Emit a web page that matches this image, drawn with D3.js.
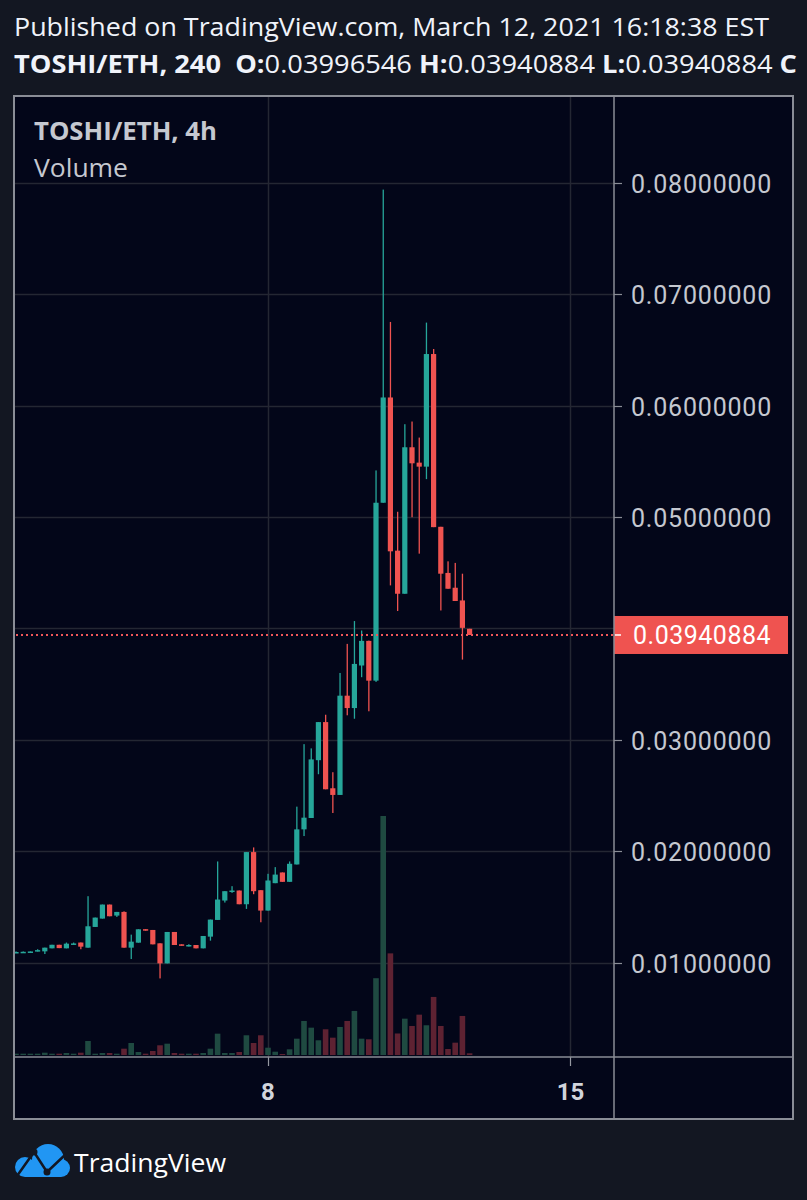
<!DOCTYPE html>
<html>
<head>
<meta charset="utf-8">
<style>
  body { margin: 0; background: #131722; }
  svg { display: block; }
</style>
</head>
<body>
<svg width="807" height="1200"></svg>
<script src="https://d3js.org/d3.v7.min.js"></script>
<script>

    // TOSHI/ETH 4h candles (one entry per candle)
    var opens = [0.01095, 0.01093, 0.01098, 0.01108, 0.01101, 0.01128, 0.0116, 0.01128, 0.01168, 0.0118,
        0.01134, 0.0132, 0.01395, 0.01521, 0.01422, 0.01455, 0.01134, 0.01179, 0.013, 0.01293,
        0.01173, 0.00993, 0.01275, 0.01164, 0.01152, 0.01158, 0.01128, 0.01233, 0.01383, 0.01557,
        0.01636, 0.01647, 0.01524, 0.01992, 0.0165, 0.01467, 0.01713, 0.01809, 0.01725, 0.01881,
        0.02196, 0.02298, 0.02817, 0.03159, 0.02565, 0.02505, 0.03396, 0.03285, 0.03667, 0.03888,
        0.03531, 0.05128, 0.06073, 0.04698, 0.04311, 0.05626, 0.05488, 0.05452, 0.06463, 0.04912,
        0.04498, 0.04365, 0.04251, 0.03996546];
    var highs = [0.011, 0.011, 0.011, 0.0112, 0.01134, 0.0116, 0.0116, 0.0118, 0.0118, 0.0118,
        0.01596, 0.01404, 0.01521, 0.01521, 0.01455, 0.0146, 0.01251, 0.01299, 0.013, 0.01293,
        0.01173, 0.01275, 0.01275, 0.01164, 0.01165, 0.01158, 0.01239, 0.01386, 0.01908, 0.01641,
        0.01686, 0.01647, 0.01992, 0.02034, 0.0165, 0.01797, 0.01857, 0.01809, 0.01908, 0.024,
        0.02961, 0.02923, 0.03159, 0.03225, 0.02709, 0.036, 0.03861, 0.04066, 0.03981, 0.0389,
        0.05418, 0.07939, 0.06751, 0.05047, 0.05833, 0.05857, 0.05713, 0.06745, 0.06508, 0.04912,
        0.04602, 0.04588, 0.04491, 0.03996546];
    var lows = [0.0109, 0.0109, 0.0109, 0.011, 0.01077, 0.01128, 0.0113, 0.01128, 0.0116, 0.0112,
        0.01134, 0.0132, 0.01395, 0.01416, 0.0141, 0.01134, 0.01032, 0.01179, 0.01287, 0.01164,
        0.00858, 0.00993, 0.01158, 0.01152, 0.01145, 0.01128, 0.01128, 0.01197, 0.01383, 0.01539,
        0.01626, 0.01524, 0.01482, 0.01614, 0.01362, 0.01467, 0.01713, 0.01725, 0.01725, 0.01881,
        0.02136, 0.02298, 0.02691, 0.02556, 0.02343, 0.02505, 0.0322, 0.03189, 0.03562, 0.03256,
        0.0352, 0.05128, 0.04386, 0.04156, 0.04311, 0.04998, 0.04671, 0.0534, 0.04909, 0.04161,
        0.04356, 0.04246, 0.0372, 0.03940884];
    var closes = [0.01095, 0.01097, 0.011, 0.01112, 0.01134, 0.0116, 0.0113, 0.0117, 0.01172, 0.01143,
        0.01326, 0.01404, 0.01521, 0.01416, 0.01455, 0.01134, 0.01188, 0.01299, 0.01287, 0.01164,
        0.00993, 0.01275, 0.01158, 0.01152, 0.01158, 0.01128, 0.01239, 0.01386, 0.01566, 0.01641,
        0.01647, 0.01524, 0.01992, 0.01641, 0.01467, 0.01737, 0.0179, 0.01725, 0.01887, 0.02196,
        0.02301, 0.02824, 0.03159, 0.02556, 0.02505, 0.03396, 0.03285, 0.03681, 0.03888, 0.03531,
        0.05128, 0.06073, 0.04692, 0.04311, 0.05626, 0.05482, 0.05452, 0.06463, 0.04909, 0.04491,
        0.04356, 0.04246, 0.04005, 0.03940884];
    var volumes = [13, 13, 13, 13, 23, 13, 13, 20, 13, 23,
        140, 13, 20, 20, 13, 63, 120, 30, 13, 40,
        97, 113, 20, 13, 13, 13, 20, 63, 213, 20,
        20, 30, 197, 120, 197, 73, 33, 10, 57, 163,
        340, 273, 147, 257, 173, 280, 340, 440, 163, 157,
        767, 2387, 1015, 215, 363, 290, 403, 297, 580, 290,
        60, 123, 390, 17];

    var priceTicks = [0.01, 0.02, 0.03, 0.04, 0.05, 0.06, 0.07, 0.08];
    var dayTickIndex = [35, 77];     // candle index where the day starts
    var dayTickLabels = ["8", "15"];
    var lastPrice = 0.03940884;

    var upColor = "#26a69a", downColor = "#ef5350";
    var textColor = "#c5c8d0";

    var svg = d3.select("svg");

    // pane geometry
    var pane = {left: 14, top: 96, right: 793, bottom: 1119},
        axisX = 614,   // price axis separator
        axisY = 1057;  // time axis separator

    var x = d3.scaleLinear().domain([0, 35]).range([16, 268]);
    var y = d3.scaleLinear().domain([0, 0.08]).range([1074, 182.8]);
    var vol = d3.scaleLinear().domain([0, d3.max(volumes)]).range([1055, 816]);

    // header
    var head = svg.append("g").attr("fill", "#f0f3fa").style("font-family", "'Open Sans', sans-serif");
    head.append("text")
        .attr("x", 14).attr("y", 36)
        .attr("font-size", 25)
        .attr("textLength", 755).attr("lengthAdjust", "spacingAndGlyphs")
        .text("Published on TradingView.com, March 12, 2021 16:18:38 EST");

    var line2 = head.append("text")
        .attr("x", 14).attr("y", 73)
        .attr("font-size", 25)
        .attr("xml:space", "preserve")
        .attr("textLength", 783).attr("lengthAdjust", "spacingAndGlyphs");
    [["TOSHI/ETH, 240  ", true], ["O:", true], ["0.03996546 ", false], ["H:", true], ["0.03940884 ", false],
        ["L:", true], ["0.03940884 ", false], ["C", true]].forEach(function (p) {
        line2.append("tspan").attr("font-weight", p[1] ? "bold" : "normal").text(p[0]);
    });

    // pane background
    svg.append("rect")
        .attr("x", pane.left).attr("y", pane.top)
        .attr("width", pane.right - pane.left).attr("height", pane.bottom - pane.top)
        .attr("fill", "#030619");

    // grid
    var grid = svg.append("g").attr("stroke", "#242733").attr("stroke-width", 1.5);
    grid.selectAll("line.h").data(priceTicks).enter().append("line")
        .attr("x1", pane.left).attr("x2", axisX)
        .attr("y1", function (d) { return Math.round(y(d)) + 0.5; })
        .attr("y2", function (d) { return Math.round(y(d)) + 0.5; });
    grid.selectAll("line.v").data(dayTickIndex).enter().append("line")
        .attr("y1", pane.top).attr("y2", axisY)
        .attr("x1", function (d) { return Math.round(x(d)) + 0.5; })
        .attr("x2", function (d) { return Math.round(x(d)) + 0.5; });

    svg.append("clipPath").attr("id", "plot")
        .append("rect").attr("x", pane.left).attr("y", pane.top)
        .attr("width", axisX - pane.left).attr("height", axisY - pane.top);
    var plot = svg.append("g").attr("clip-path", "url(#plot)");

    var idx = d3.range(closes.length);
    var isUp = function (i) { return closes[i] >= opens[i]; };

    // volume
    plot.selectAll("rect.vol").data(idx).enter().append("rect")
        .attr("x", function (i) { return x(i) - 2.8; })
        .attr("width", 5.6)
        .attr("y", function (i) { return vol(volumes[i]); })
        .attr("height", function (i) { return 1055 - vol(volumes[i]); })
        .attr("fill", function (i) { return isUp(i) ? "#1f4a41" : "#5e2232"; });

    // wicks
    plot.selectAll("rect.wick").data(idx).enter().append("rect")
        .attr("x", function (i) { return x(i) - 0.6; })
        .attr("width", 1.3)
        .attr("y", function (i) { return y(highs[i]); })
        .attr("height", function (i) { return Math.max(1, y(lows[i]) - y(highs[i])); })
        .attr("fill", function (i) { return isUp(i) ? upColor : downColor; });

    // bodies
    plot.selectAll("rect.body").data(idx).enter().append("rect")
        .attr("x", function (i) { return x(i) - 2.6; })
        .attr("width", 5.2)
        .attr("y", function (i) { return y(Math.max(opens[i], closes[i])); })
        .attr("height", function (i) { return Math.max(1.5, Math.abs(y(opens[i]) - y(closes[i]))); })
        .attr("fill", function (i) { return isUp(i) ? upColor : downColor; });

    // last price line
    svg.append("line")
        .attr("x1", pane.left + 2).attr("x2", axisX)
        .attr("y1", y(lastPrice)).attr("y2", y(lastPrice))
        .attr("stroke", "#f0575a").attr("stroke-width", 2)
        .attr("stroke-dasharray", "2,3");

    // pane legend
    svg.append("text").attr("x", 34).attr("y", 140)
        .attr("fill", textColor).attr("font-size", 25).attr("font-weight", "bold")
        .attr("textLength", 183).attr("lengthAdjust", "spacingAndGlyphs")
        .style("font-family", "'Open Sans', sans-serif")
        .text("TOSHI/ETH, 4h");
    svg.append("text").attr("x", 34).attr("y", 177)
        .attr("fill", textColor).attr("font-size", 25)
        .attr("textLength", 94).attr("lengthAdjust", "spacingAndGlyphs")
        .style("font-family", "'Open Sans', sans-serif")
        .text("Volume");

    // price axis: ticks and labels (the one under the last price label is hidden)
    var shown = priceTicks.filter(function (d) { return Math.abs(y(d) - y(lastPrice)) > 22; });
    var pAxis = svg.append("g");
    pAxis.selectAll("line").data(shown).enter().append("line")
        .attr("x1", axisX).attr("x2", axisX + 8)
        .attr("y1", function (d) { return Math.round(y(d)) + 0.5; })
        .attr("y2", function (d) { return Math.round(y(d)) + 0.5; })
        .attr("stroke", "#8a8d96").attr("stroke-width", 1.2);
    pAxis.selectAll("text").data(shown).enter().append("text")
        .attr("x", 631)
        .attr("y", function (d) { return y(d) + 10; })
        .attr("fill", textColor).attr("font-size", 25)
        .attr("letter-spacing", 0.8)
        .style("font-family", "Roboto, sans-serif")
        .text(function (d) { return d3.format(".8f")(d); });

    // last price label
    svg.append("rect")
        .attr("x", axisX).attr("y", y(lastPrice) - 19)
        .attr("width", 174).attr("height", 38)
        .attr("fill", downColor);
    svg.append("line")
        .attr("x1", axisX + 1).attr("x2", axisX + 7)
        .attr("y1", y(lastPrice)).attr("y2", y(lastPrice))
        .attr("stroke", "#fff").attr("stroke-width", 1.5);
    svg.append("text")
        .attr("x", 633).attr("y", y(lastPrice) + 9)
        .attr("fill", "#fff").attr("font-size", 25)
        .attr("letter-spacing", 0.5)
        .style("font-family", "Roboto, sans-serif")
        .text(d3.format(".8f")(lastPrice));

    // time axis
    var tAxis = svg.append("g");
    tAxis.selectAll("line").data(dayTickIndex).enter().append("line")
        .attr("x1", function (d) { return Math.round(x(d)) + 0.5; })
        .attr("x2", function (d) { return Math.round(x(d)) + 0.5; })
        .attr("y1", axisY).attr("y2", axisY + 9)
        .attr("stroke", "#9598a1").attr("stroke-width", 1.2);
    tAxis.selectAll("text").data(dayTickIndex).enter().append("text")
        .attr("x", function (d) { return x(d); })
        .attr("y", 1100)
        .attr("text-anchor", "middle")
        .attr("fill", "#d1d4dc").attr("font-size", 24).attr("font-weight", "bold")
        .style("font-family", "Roboto, sans-serif")
        .text(function (d, i) { return dayTickLabels[i]; });

    // borders / separators
    var frame = svg.append("g").attr("stroke", "#8a8d96").attr("fill", "none");
    frame.append("rect")
        .attr("x", pane.left).attr("y", pane.top)
        .attr("width", pane.right - pane.left).attr("height", pane.bottom - pane.top)
        .attr("stroke-width", 2);
    frame.append("line").attr("x1", axisX).attr("x2", axisX)
        .attr("y1", pane.top).attr("y2", pane.bottom).attr("stroke-width", 1.5);
    frame.append("line").attr("x1", pane.left).attr("x2", pane.right)
        .attr("y1", axisY).attr("y2", axisY).attr("stroke-width", 1.5);

    // TradingView logo
    var logo = svg.append("g");
    logo.append("circle").attr("cx", 48).attr("cy", 1160).attr("r", 16).attr("fill", "#2196f3");
    logo.append("circle").attr("cx", 25).attr("cy", 1167).attr("r", 10).attr("fill", "#2196f3");
    logo.append("circle").attr("cx", 61).attr("cy", 1168).attr("r", 9).attr("fill", "#2196f3");
    logo.append("rect").attr("x", 25).attr("y", 1165).attr("width", 36).attr("height", 12).attr("fill", "#2196f3");
    logo.append("path")
        .attr("d", "M17,1176 L34,1152 L47,1172 L66,1154")
        .attr("fill", "none").attr("stroke", "#131722").attr("stroke-width", 2.5);
    logo.append("circle").attr("cx", 34).attr("cy", 1152).attr("r", 3.5).attr("fill", "#131722");
    logo.append("circle").attr("cx", 47).attr("cy", 1172).attr("r", 3.5).attr("fill", "#131722");
    logo.append("text").attr("x", 74).attr("y", 1172)
        .attr("fill", "#fff").attr("font-size", 26)
        .attr("textLength", 152).attr("lengthAdjust", "spacingAndGlyphs")
        .style("font-family", "'Open Sans', sans-serif")
        .text("TradingView");

</script>
</body>
</html>
